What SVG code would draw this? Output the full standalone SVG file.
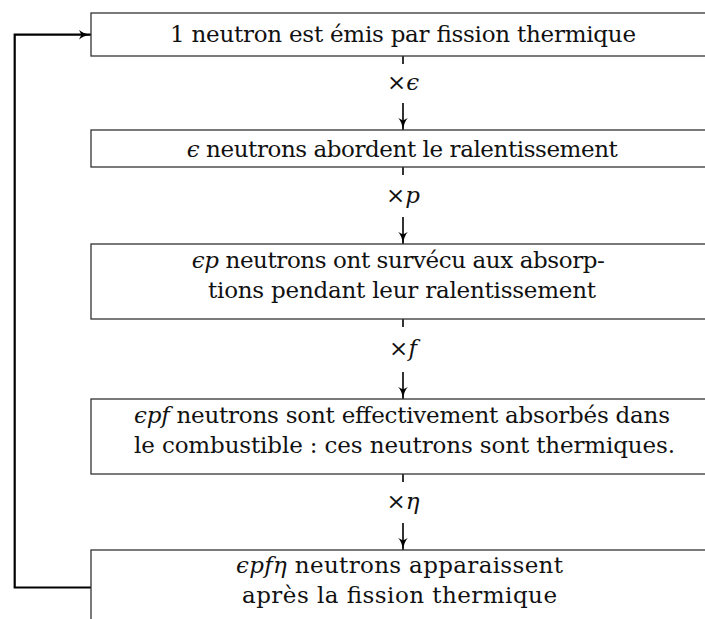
<svg xmlns="http://www.w3.org/2000/svg" width="705" height="619" viewBox="0 0 705 619">
<defs>
<style>
.box{fill:#fff;stroke:#333;stroke-width:1.3}
text{font-family:'DejaVu Serif',serif;font-size:23px;fill:#111;text-anchor:middle}
.m{font-style:italic}
.c{stroke:#000;stroke-width:1.6;fill:none}
.fb{stroke:#000;stroke-width:2.2;fill:none}
</style>
<marker id="ah" markerUnits="userSpaceOnUse" viewBox="0 0 10 8" refX="10" refY="4" markerWidth="12" markerHeight="9.6" orient="auto">
<path d="M0,0 Q3,3 10,4 Q3,5 0,8 L2,4 Z" fill="#000"/>
</marker>
</defs>
<g id="connectors">
<line class="c" x1="403" y1="56" x2="403" y2="64"/>
<line class="c" x1="403" y1="103" x2="403" y2="130" marker-end="url(#ah)"/>
<line class="c" x1="403" y1="167" x2="403" y2="175"/>
<line class="c" x1="403" y1="217" x2="403" y2="244" marker-end="url(#ah)"/>
<line class="c" x1="403" y1="319" x2="403" y2="327"/>
<line class="c" x1="403" y1="372" x2="403" y2="399" marker-end="url(#ah)"/>
<line class="c" x1="403" y1="474" x2="403" y2="482"/>
<line class="c" x1="403" y1="523" x2="403" y2="550" marker-end="url(#ah)"/>
<path class="fb" d="M91,587.5 H14.7 V34.7 H91" marker-end="url(#ah)"/>
<text x="403" y="90">×<tspan class="m">ϵ</tspan></text>
<text x="403" y="202.5">×<tspan class="m">p</tspan></text>
<text x="403" y="356">×<tspan class="m">f</tspan></text>
<text x="403" y="509">×<tspan class="m">η</tspan></text>
</g>
<g id="n1">
<rect class="box" x="91" y="13" width="640" height="43"/>
<text x="403" y="41.7" textLength="466" lengthAdjust="spacing">1 neutron est émis par fission thermique</text>
</g>
<g id="n2">
<rect class="box" x="91" y="130" width="640" height="37"/>
<text x="402.3" y="156.7" textLength="431" lengthAdjust="spacing"><tspan class="m">ϵ</tspan> neutrons abordent le ralentissement</text>
</g>
<g id="n3">
<rect class="box" x="91" y="244" width="640" height="75"/>
<text x="398.3" y="268" textLength="413" lengthAdjust="spacing"><tspan class="m">ϵp</tspan> neutrons ont survécu aux absorp-</text>
<text x="402" y="298" textLength="388" lengthAdjust="spacing">tions pendant leur ralentissement</text>
</g>
<g id="n4">
<rect class="box" x="91" y="399" width="640" height="75"/>
<text x="402" y="423" textLength="536" lengthAdjust="spacing"><tspan class="m">ϵpf</tspan> neutrons sont effectivement absorbés dans</text>
<text x="404.5" y="453" textLength="541" lengthAdjust="spacing">le combustible : ces neutrons sont thermiques.</text>
</g>
<g id="n5">
<rect class="box" x="91" y="550" width="640" height="80"/>
<text x="399.5" y="573" textLength="327" lengthAdjust="spacing"><tspan class="m">ϵpfη</tspan> neutrons apparaissent</text>
<text x="399.5" y="603" textLength="315" lengthAdjust="spacing">après la fission thermique</text>
</g>
</svg>
